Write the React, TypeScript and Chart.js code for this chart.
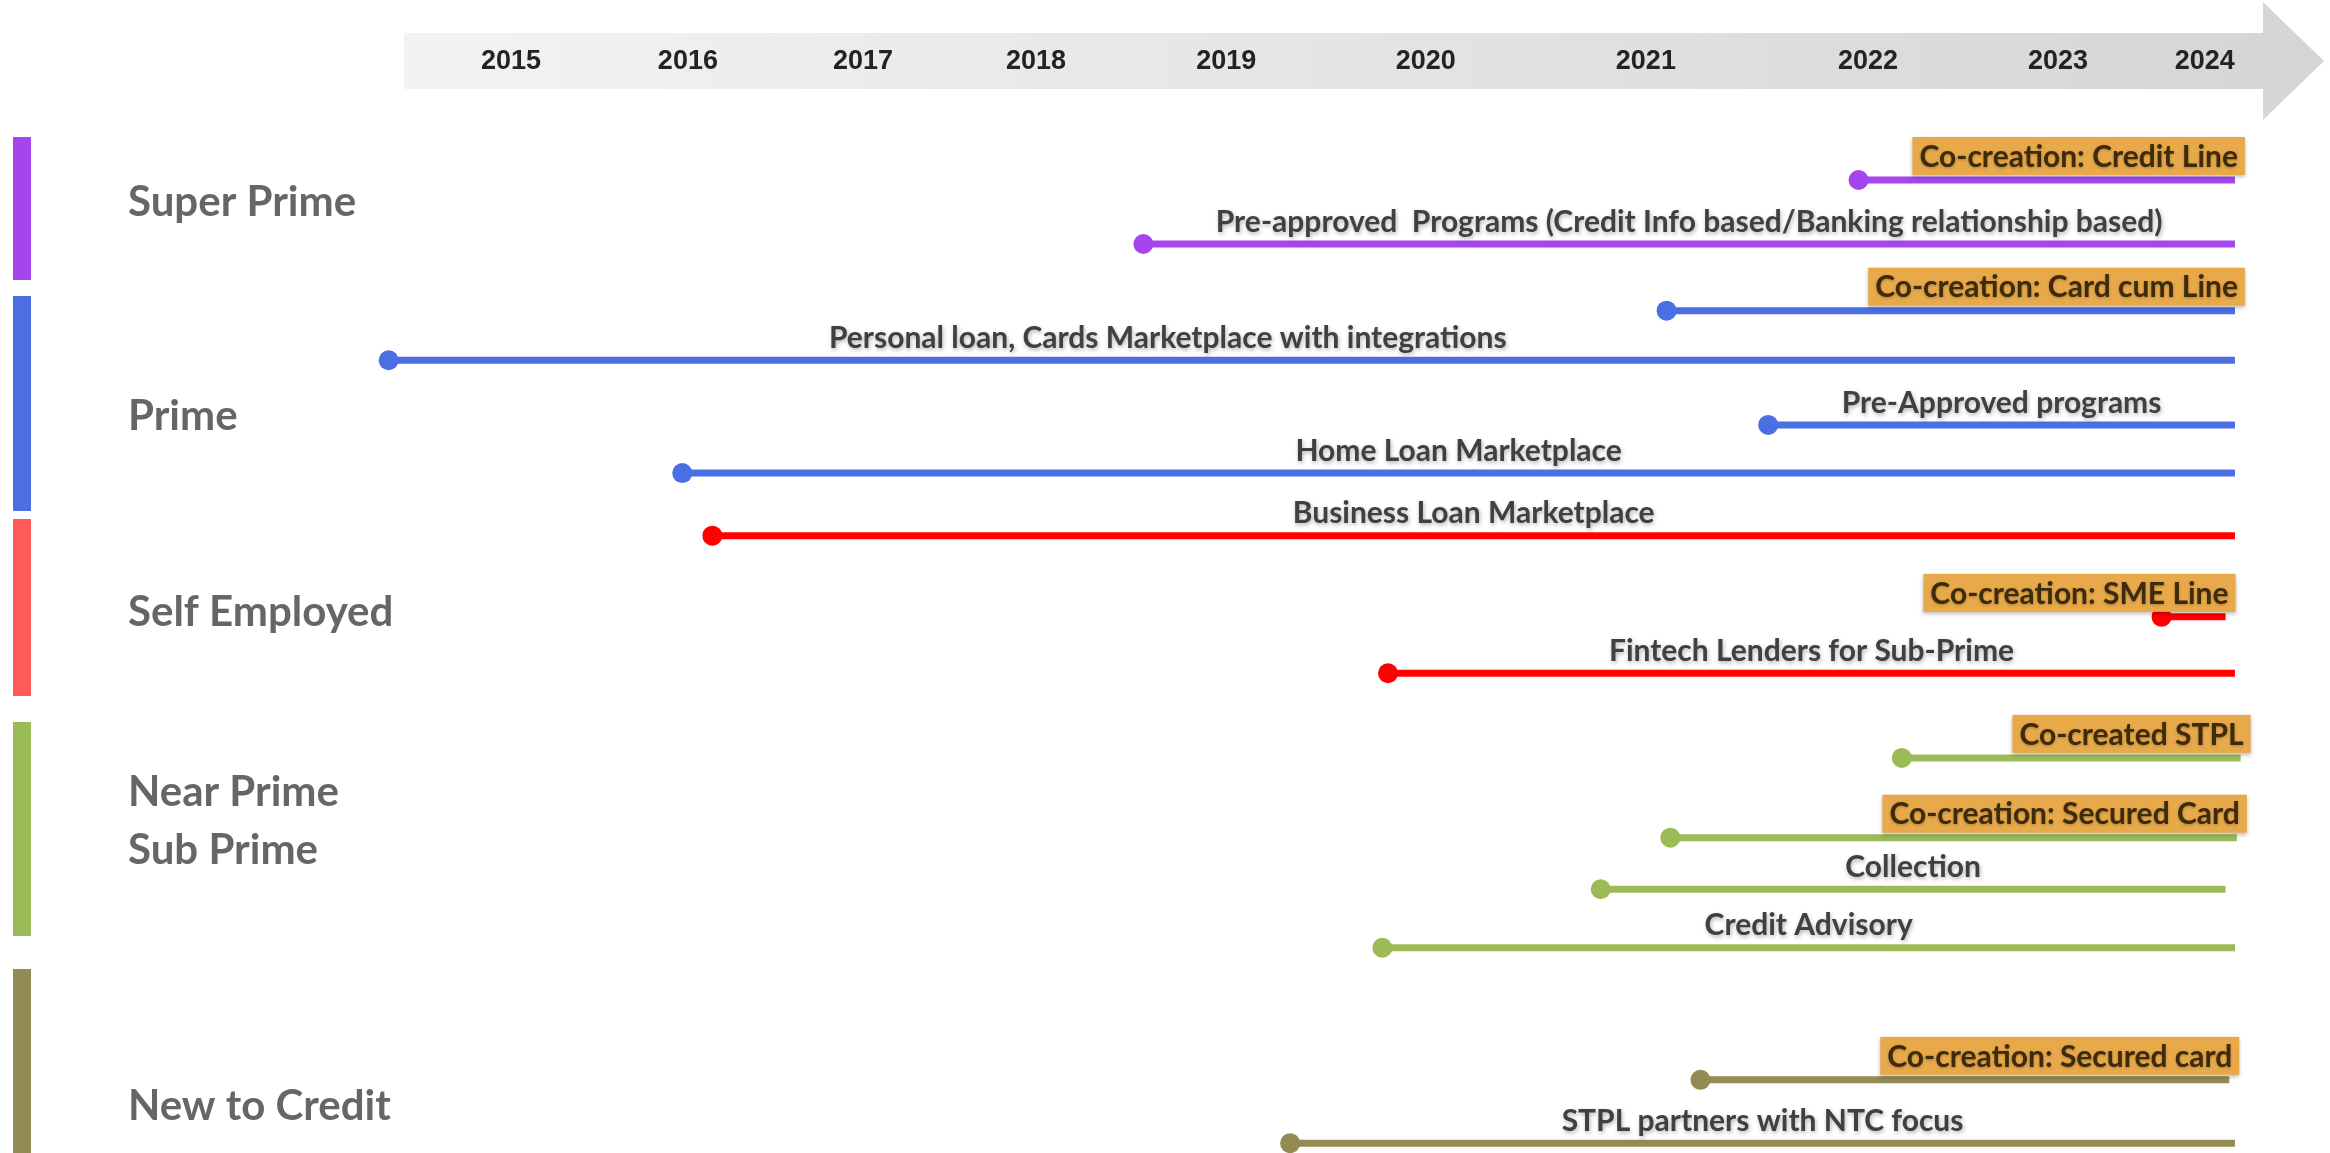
import React, { useEffect, useRef } from 'react';
import { Chart, registerables } from 'chart.js';

Chart.register(...registerables);

// ---------- data ----------
const yearLabels = ['2015', '2016', '2017', '2018', '2019', '2020', '2021', '2022', '2023', '2024'];
// where each year label sits along the timeline axis
const yearTickAt = [2015.0, 2015.94, 2016.87, 2017.79, 2018.8, 2019.86, 2021.03, 2022.21, 2023.22, 2024.0];

const categories = ['Super Prime', 'Prime', 'Self Employed', 'Near Prime\nSub Prime', 'New to Credit'];
const categoryBarColors = ['#A445EE', '#4B6FE2', '#FF5A5A', '#9BBB59', '#948A54'];
const categoryLineColors = ['#A445EE', '#4A6FE3', '#FF0000', '#9BBB59', '#948A54'];

const rowLabels = [
  'Co-creation: Credit Line',
  'Pre-approved  Programs (Credit Info based/Banking relationship based)',
  'Co-creation: Card cum Line',
  'Personal loan, Cards Marketplace with integrations',
  'Pre-Approved programs',
  'Home Loan Marketplace',
  'Business Loan Marketplace',
  'Co-creation: SME Line',
  'Fintech Lenders for Sub-Prime',
  'Co-created STPL',
  'Co-creation: Secured Card',
  'Collection',
  'Credit Advisory',
  'Co-creation: Secured card',
  'STPL partners with NTC focus',
];
const rowCategory = [0, 0, 1, 1, 1, 1, 2, 2, 2, 3, 3, 3, 3, 4, 4];
const rowStart = [2022.16, 2018.36, 2021.14, 2014.35, 2021.68, 2015.91, 2016.07, 2023.77, 2019.66, 2022.39, 2021.16, 2020.79, 2019.63, 2021.32, 2019.14];
const rowEnd = [2024.16, 2024.16, 2024.16, 2024.16, 2024.16, 2024.16, 2024.16, 2024.11, 2024.16, 2024.19, 2024.17, 2024.11, 2024.16, 2024.13, 2024.16];
const rowLane = [0, 0.93, 1.9, 2.62, 3.56, 4.26, 5.17, 6.35, 7.17, 8.4, 9.56, 10.31, 11.16, 13.08, 14.0];
const rowCoCreation = [true, false, true, false, false, false, false, true, false, true, true, false, false, true, false];
const rowLabelAt: (number | null)[] = [null, null, null, 2018.49, null, null, null, null, null, null, null, null, null, null, null];

// ---------- layout (pixels, decoration only) ----------
const W = 2330;
const H = 1153;
const groupBarY = [[137, 280], [296, 511], [519, 696], [722, 936], [969, 1153]];
const groupLabelY = [[202], [416], [612], [792, 850], [1106]];

const LABEL_FONT = 'bold 30px Lato, "Open Sans", sans-serif';

const decorPlugin = {
  id: 'decor',
  beforeDatasetsDraw(chart: any) {
    const { ctx } = chart;
    const xs = chart.scales.x;
    ctx.save();
    // arrow band
    const g = ctx.createLinearGradient(404, 0, 2323, 0);
    g.addColorStop(0, '#F3F3F3');
    g.addColorStop(1, '#D5D5D5');
    ctx.fillStyle = g;
    ctx.beginPath();
    ctx.moveTo(404, 33);
    ctx.lineTo(2263, 33);
    ctx.lineTo(2263, 2);
    ctx.lineTo(2324, 61);
    ctx.lineTo(2263, 120);
    ctx.lineTo(2263, 89);
    ctx.lineTo(404, 89);
    ctx.closePath();
    ctx.fill();
    // year labels
    ctx.font = 'bold 27px "Liberation Sans", Arial, sans-serif';
    ctx.fillStyle = '#232323';
    ctx.textAlign = 'center';
    ctx.textBaseline = 'middle';
    yearLabels.forEach((t, i) => ctx.fillText(t, xs.getPixelForValue(yearTickAt[i]), 62));
    // group bars + names
    categories.forEach((name, i) => {
      const [a, b] = groupBarY[i];
      ctx.fillStyle = categoryBarColors[i];
      ctx.fillRect(13, a, 18, b - a);
      ctx.fillStyle = '#666666';
      ctx.font = 'bold 42px Lato, sans-serif';
      ctx.textAlign = 'left';
      ctx.textBaseline = 'middle';
      name.split('\n').forEach((line, k) => ctx.fillText(line, 128, groupLabelY[i][k]));
    });
    ctx.restore();
  },
  afterDatasetsDraw(chart: any) {
    const { ctx } = chart;
    const xs = chart.scales.x;
    const ys = chart.scales.y;
    ctx.save();
    ctx.font = LABEL_FONT;
    ctx.textBaseline = 'middle';
    ctx.textAlign = 'center';
    rowLabels.forEach((label, i) => {
      const x0 = xs.getPixelForValue(rowStart[i]);
      const x1 = xs.getPixelForValue(rowEnd[i]);
      const y = ys.getPixelForValue(rowLane[i]);
      if (rowCoCreation[i]) {
        const w = ctx.measureText(label).width;
        const right = x1 + 10;
        const left = right - w - 14;
        const bottom = y - 5;
        const top = bottom - 38;
        ctx.save();
        ctx.shadowColor = 'rgba(0,0,0,0.25)';
        ctx.shadowBlur = 4;
        ctx.shadowOffsetY = 2;
        ctx.fillStyle = '#E8A94A';
        ctx.fillRect(left, top, right - left, bottom - top);
        ctx.restore();
        ctx.save();
        ctx.shadowColor = 'rgba(0,0,0,0.25)';
        ctx.shadowBlur = 3;
        ctx.shadowOffsetY = 1;
        ctx.fillStyle = '#3D2B0B';
        ctx.fillText(label, (left + right) / 2, (top + bottom) / 2 + 1);
        ctx.restore();
      } else {
        const cx = rowLabelAt[i] != null ? xs.getPixelForValue(rowLabelAt[i]) : (x0 + x1) / 2;
        ctx.save();
        ctx.shadowColor = 'rgba(0,0,0,0.3)';
        ctx.shadowBlur = 4;
        ctx.shadowOffsetY = 2;
        ctx.shadowOffsetX = 1;
        ctx.fillStyle = '#404040';
        ctx.fillText(label, cx, y - 22);
        ctx.restore();
      }
    });
    ctx.restore();
  },
};

export default function App() {
  const ref = useRef<HTMLCanvasElement>(null);
  useEffect(() => {
    if (!ref.current) return;
    const datasets = rowLabels.map((label, i) => {
      const c = categoryLineColors[rowCategory[i]];
      return {
        label,
        data: [
          { x: rowStart[i], y: rowLane[i] },
          { x: rowEnd[i], y: rowLane[i] },
        ],
        showLine: true,
        borderColor: c,
        backgroundColor: c,
        pointBackgroundColor: c,
        pointBorderWidth: 0,
        pointRadius: [10, 0],
        pointHoverRadius: [10, 0],
        borderWidth: 7,
        borderCapStyle: 'butt',
      };
    });
    const chart = new Chart(ref.current, {
      type: 'scatter',
      data: { datasets } as any,
      options: {
        responsive: false,
        animation: false,
        events: [],
        layout: { padding: 0, autoPadding: false },
        plugins: { legend: { display: false }, tooltip: { enabled: false } },
        scales: {
          x: { type: 'linear', min: 2012.285, max: 2024.665, display: false },
          y: { type: 'linear', min: -2.616, max: 14.143, reverse: true, display: false },
        },
      } as any,
      plugins: [decorPlugin as any],
    });
    return () => chart.destroy();
  }, []);
  return (
    <div style={{ position: 'fixed', left: 0, top: 0, width: W, height: H, background: '#fff' }}>
      <canvas ref={ref} width={W} height={H} style={{ display: 'block' }} />
    </div>
  );
}
